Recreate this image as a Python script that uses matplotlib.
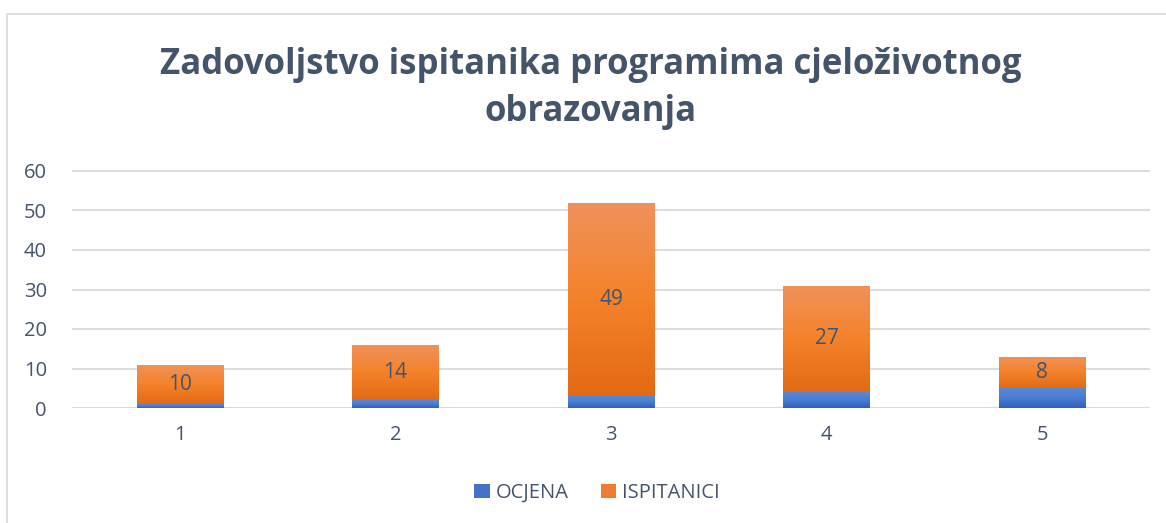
import numpy as np
import matplotlib.pyplot as plt
from matplotlib.colors import LinearSegmentedColormap
from matplotlib.patches import Rectangle

categories = ["1", "2", "3", "4", "5"]
ocjena = [1, 2, 3, 4, 5]
ispitanici = [10, 14, 49, 27, 8]

txt_col = "#44546A"
plt.rcParams['font.family'] = ['Open Sans', 'DejaVu Sans']

fig = plt.figure(figsize=(11.66, 5.23), dpi=100)
ax = fig.add_axes([72 / 1166, 1 - 408 / 523, 1078 / 1166, 237 / 523 * 66 / 60])

x = np.arange(len(categories))
w = 0.4
b1 = ax.bar(x, ocjena, w, color="#4472C4", label="OCJENA", zorder=2)
b2 = ax.bar(x, ispitanici, w, bottom=ocjena, color="#ED7D31", label="ISPITANICI", zorder=2)

# vertical gradients over bars, clipped to each bar
blue_cm = LinearSegmentedColormap.from_list("b", ["#2F5FB8", "#4A7CD2", "#5A88D6"])
orange_cm = LinearSegmentedColormap.from_list("o", ["#E36A14", "#F4822A", "#F0925C"])
grad = np.linspace(0, 1, 256).reshape(-1, 1)
for bars, cm in ((b1, blue_cm), (b2, orange_cm)):
    for p in bars:
        x0, y0 = p.get_x(), p.get_y()
        im = ax.imshow(grad, cmap=cm, aspect="auto", origin="lower",
                       extent=[x0, x0 + p.get_width(), y0, y0 + p.get_height()], zorder=3)
        im.set_clip_path(p)

for i in range(len(x)):
    ax.text(x[i], ocjena[i] + ispitanici[i] / 2, str(ispitanici[i]), ha="center", va="center",
            fontsize=15, color=txt_col, zorder=4)

ax.set_xlim(-0.5, len(x) - 0.5)
ax.set_ylim(0, 66)
ax.set_yticks(range(0, 61, 10))
ax.set_xticks(x)
ax.set_xticklabels(categories)
ax.tick_params(length=0, labelsize=14.5, labelcolor=txt_col)
ax.tick_params(axis="x", pad=12)
ax.tick_params(axis="y", pad=18)
ax.grid(axis="y", color="#D9DCE3", linewidth=1.5, zorder=0)
for s in ax.spines.values():
    s.set_visible(False)
ax.patch.set_alpha(0)

fig.text(591 / 1166, 1 - 65 / 523, "Zadovoljstvo ispitanika programima cjeloživotnog", ha="center", va="center",
         fontsize=25, fontweight="bold", color=txt_col)
fig.text(591 / 1166, 1 - 112 / 523, "obrazovanja", ha="center", va="center",
         fontsize=25, fontweight="bold", color=txt_col)

fig.legend(handles=[b1, b2], loc="center", bbox_to_anchor=(597 / 1166, 1 - 493 / 523), ncol=2, frameon=False,
           fontsize=14.5, labelcolor=txt_col, handlelength=0.75, handleheight=0.75, handletextpad=0.3,
           columnspacing=1.6)

fig.add_artist(Rectangle((7 / 1166, -0.1), 1.2, 1 - 14 / 523 + 0.1, transform=fig.transFigure,
                         fill=False, edgecolor="#D9D9D9", linewidth=1.2))

fig.savefig("out.png", dpi=100)
